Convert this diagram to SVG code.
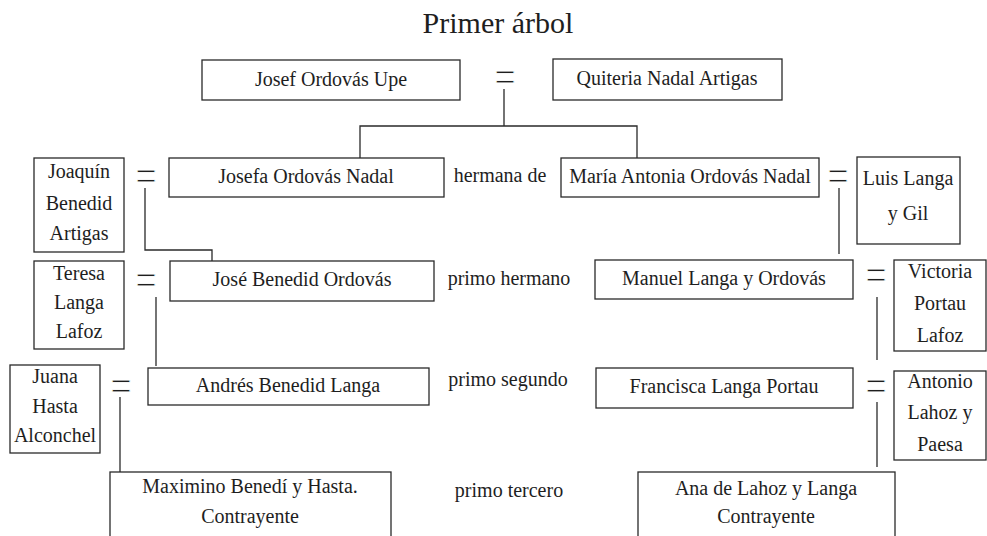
<svg xmlns="http://www.w3.org/2000/svg" width="987" height="536" viewBox="0 0 987 536">
<style>
  .box { fill: #ffffff; stroke: #2a2a2a; stroke-width: 1.3; }
  .t { font-family: "Liberation Serif", "DejaVu Serif", serif; font-size: 20px; fill: #1e1e1e; text-anchor: middle; }
  .title { font-family: "Liberation Serif", "DejaVu Serif", serif; font-size: 30px; fill: #1e1e1e; text-anchor: middle; }
  .eq { font-family: "Liberation Serif", "DejaVu Serif", serif; font-size: 34px; fill: #1e1e1e; stroke: #ffffff; stroke-width: 0.6; paint-order: normal; text-anchor: middle; }
  .ln { fill: none; stroke: #2a2a2a; stroke-width: 1.3; }
</style>
<rect width="987" height="536" fill="#ffffff"/>
<text class="title" x="498" y="33">Primer árbol</text>

<g id="connectors">
  <path class="ln" d="M504 89 V126 M360 158 V126 H637 V158"/>
  <path class="ln" d="M145 188 V250 H212 V261"/>
  <path class="ln" d="M156 297 V366"/>
  <path class="ln" d="M120 397 V472"/>
  <path class="ln" d="M839 188 V254"/>
  <path class="ln" d="M877 297 V360"/>
  <path class="ln" d="M877 402 V467"/>
</g>

<g id="marriages">
  <text class="eq" transform="translate(505,79) scale(1.1,1.35)" x="0" y="9.4">=</text>
  <text class="eq" transform="translate(146,178) scale(1.1,1.35)" x="0" y="9.4">=</text>
  <text class="eq" transform="translate(146,282) scale(1.1,1.35)" x="0" y="9.4">=</text>
  <text class="eq" transform="translate(121,388) scale(1.1,1.35)" x="0" y="9.4">=</text>
  <text class="eq" transform="translate(838,178) scale(1.1,1.35)" x="0" y="9.4">=</text>
  <text class="eq" transform="translate(876,277) scale(1.1,1.35)" x="0" y="9.4">=</text>
  <text class="eq" transform="translate(876,388) scale(1.1,1.35)" x="0" y="9.4">=</text>
</g>

<g id="relations">
  <text class="t" x="500" y="182">hermana de</text>
  <text class="t" x="509" y="285">primo hermano</text>
  <text class="t" x="508" y="386">primo segundo</text>
  <text class="t" x="509" y="497">primo tercero</text>
</g>

<g id="josef"><rect class="box" x="202" y="60" width="258" height="40"/><text class="t" x="331" y="86">Josef Ordovás Upe</text></g>
<g id="quiteria"><rect class="box" x="553" y="59" width="229" height="41"/><text class="t" x="667" y="85">Quiteria Nadal Artigas</text></g>

<g id="joaquin"><rect class="box" x="34" y="158" width="90" height="94"/><text class="t"><tspan x="79" y="178">Joaquín</tspan><tspan x="79" y="210">Benedid</tspan><tspan x="79" y="240">Artigas</tspan></text></g>
<g id="josefa"><rect class="box" x="169" y="158" width="275" height="39"/><text class="t" x="306" y="183">Josefa Ordovás Nadal</text></g>
<g id="maria"><rect class="box" x="561" y="158" width="258" height="39"/><text class="t" x="690" y="183">María Antonia Ordovás Nadal</text></g>
<g id="luis"><rect class="box" x="857" y="157" width="103" height="87"/><text class="t"><tspan x="908" y="185">Luis Langa</tspan><tspan x="908" y="220">y Gil</tspan></text></g>

<g id="teresa"><rect class="box" x="34" y="261" width="90" height="88"/><text class="t"><tspan x="79" y="280">Teresa</tspan><tspan x="79" y="309">Langa</tspan><tspan x="79" y="338">Lafoz</tspan></text></g>
<g id="jose"><rect class="box" x="170" y="261" width="264" height="40"/><text class="t" x="302" y="286">José Benedid Ordovás</text></g>
<g id="manuel"><rect class="box" x="595" y="260" width="258" height="39"/><text class="t" x="724" y="285">Manuel Langa y Ordovás</text></g>
<g id="victoria"><rect class="box" x="894" y="260" width="92" height="91"/><text class="t"><tspan x="940" y="278">Victoria</tspan><tspan x="940" y="310">Portau</tspan><tspan x="940" y="342">Lafoz</tspan></text></g>

<g id="juana"><rect class="box" x="10" y="365" width="90" height="88"/><text class="t"><tspan x="55" y="383">Juana</tspan><tspan x="55" y="413">Hasta</tspan><tspan x="55" y="442">Alconchel</tspan></text></g>
<g id="andres"><rect class="box" x="148" y="368" width="281" height="37"/><text class="t" x="288" y="392">Andrés Benedid Langa</text></g>
<g id="francisca"><rect class="box" x="596" y="368" width="257" height="40"/><text class="t" x="724" y="393">Francisca Langa Portau</text></g>
<g id="antonio"><rect class="box" x="894" y="371" width="92" height="89"/><text class="t"><tspan x="940" y="388">Antonio</tspan><tspan x="940" y="419">Lahoz y</tspan><tspan x="940" y="451">Paesa</tspan></text></g>

<g id="maximino"><rect class="box" x="110" y="472" width="281" height="66"/><text class="t"><tspan x="250" y="493">Maximino Benedí y Hasta.</tspan><tspan x="250" y="523">Contrayente</tspan></text></g>
<g id="ana"><rect class="box" x="638" y="472" width="257" height="66"/><text class="t"><tspan x="766" y="495">Ana de Lahoz y Langa</tspan><tspan x="766" y="523">Contrayente</tspan></text></g>
</svg>
